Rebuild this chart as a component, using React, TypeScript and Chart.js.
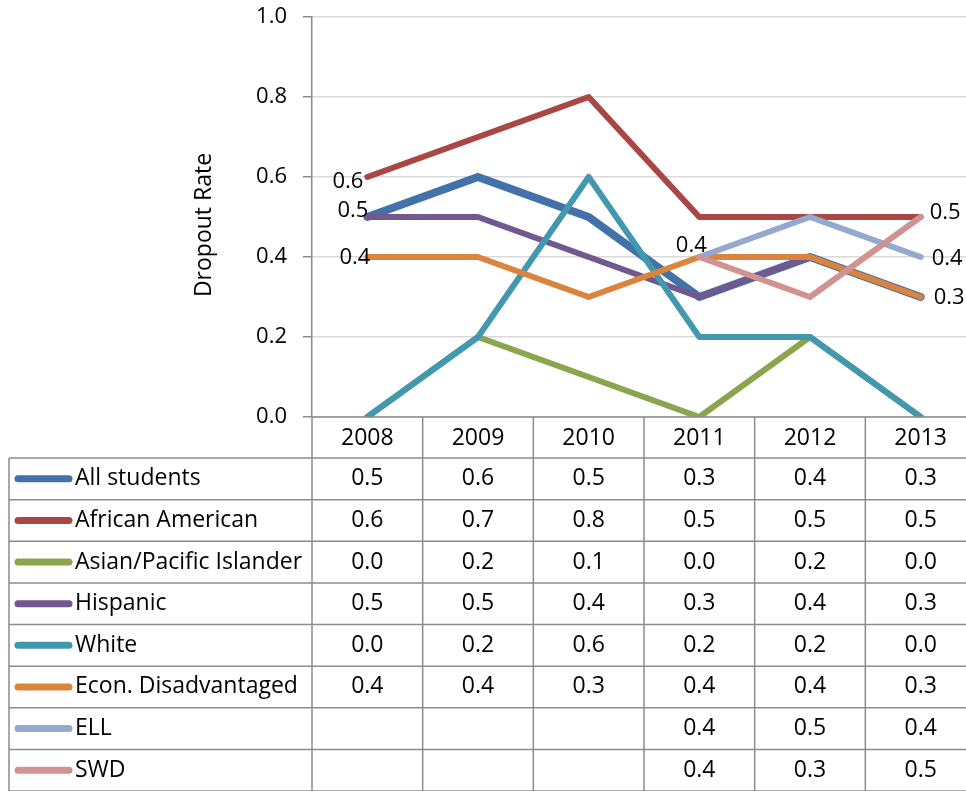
import React, { useEffect, useRef } from "react";
import { Chart, registerables } from "chart.js";

Chart.register(...registerables);

const years = ["2008", "2009", "2010", "2011", "2012", "2013"];
const seriesNames = [
  "All students",
  "African American",
  "Asian/Pacific Islander",
  "Hispanic",
  "White",
  "Econ. Disadvantaged",
  "ELL",
  "SWD",
];
const allStudents = [0.5, 0.6, 0.5, 0.3, 0.4, 0.3];
const africanAmerican = [0.6, 0.7, 0.8, 0.5, 0.5, 0.5];
const asianPacific = [0.0, 0.2, 0.1, 0.0, 0.2, 0.0];
const hispanic = [0.5, 0.5, 0.4, 0.3, 0.4, 0.3];
const white = [0.0, 0.2, 0.6, 0.2, 0.2, 0.0];
const econDisadvantaged = [0.4, 0.4, 0.3, 0.4, 0.4, 0.3];
const ell = [null, null, null, 0.4, 0.5, 0.4];
const swd = [null, null, null, 0.4, 0.3, 0.5];
const seriesValues = [allStudents, africanAmerican, asianPacific, hispanic, white, econDisadvantaged, ell, swd];
const colors = ["#4372AA", "#AA4643", "#89A54E", "#71588F", "#4198AF", "#DB843D", "#93A9CF", "#D19392"];
const lineWidths = [8, 6, 6, 6, 6, 6, 6, 6];

const yTicks = [0, 0.2, 0.4, 0.6, 0.8, 1.0];

// data labels: series index, point index, alignment and offset
const dataLabels = [
  { s: 1, i: 0, align: "right", dx: -4, dy: 5 },
  { s: 0, i: 0, align: "right", dx: 1, dy: -6 },
  { s: 5, i: 0, align: "right", dx: 3, dy: 1 },
  { s: 6, i: 3, align: "center", dx: -8, dy: -11 },
  { s: 7, i: 5, align: "left", dx: 9, dy: -4 },
  { s: 6, i: 5, align: "left", dx: 11, dy: 2 },
  { s: 5, i: 5, align: "left", dx: 13, dy: 1 },
];

const FONT = "'Open Sans', sans-serif";
const GRAY = "#8C8C8C";

const tablePlugin = {
  id: "tablePlugin",
  afterDraw(chart: any) {
    const ctx = chart.ctx;
    const x = chart.scales.x;
    const y = chart.scales.y;
    const area = chart.chartArea;
    const colW = (area.right - area.left) / years.length;
    const top = area.bottom;
    const headerBottom = 458;
    const bottom = 791;
    const rowH = (bottom - headerBottom) / seriesNames.length;
    const tableLeft = 9;
    const right = chart.width;

    ctx.save();
    // data labels
    ctx.fillStyle = "#000";
    ctx.font = `22px ${FONT}`;
    ctx.textBaseline = "middle";
    dataLabels.forEach((d) => {
      const v = seriesValues[d.s][d.i] as number;
      const px = x.getPixelForValue(d.i);
      const py = y.getPixelForValue(v);
      ctx.textAlign = d.align;
      ctx.fillText(v.toFixed(1), px + d.dx, py + d.dy);
    });

    // y title
    ctx.save();
    ctx.translate(204, 225);
    ctx.rotate(-Math.PI / 2);
    ctx.textAlign = "center";
    ctx.textBaseline = "middle";
    ctx.font = `23px ${FONT}`;
    ctx.fillText("Dropout Rate", 0, 0);
    ctx.restore();

    // table lines
    ctx.strokeStyle = GRAY;
    ctx.lineWidth = 1.5;
    ctx.beginPath();
    ctx.moveTo(area.left, top);
    ctx.lineTo(right, top);
    for (let r = 0; r <= seriesNames.length; r++) {
      const yy = headerBottom + r * rowH;
      ctx.moveTo(tableLeft, yy);
      ctx.lineTo(right, yy);
    }
    ctx.moveTo(tableLeft, headerBottom);
    ctx.lineTo(tableLeft, bottom);
    for (let c = 0; c <= years.length; c++) {
      const xx = area.left + c * colW;
      ctx.moveTo(xx, top);
      ctx.lineTo(xx, bottom);
    }
    ctx.stroke();

    // header
    ctx.fillStyle = "#000";
    ctx.font = `23px ${FONT}`;
    ctx.textAlign = "center";
    ctx.textBaseline = "middle";
    years.forEach((yr, i) => {
      ctx.fillText(yr, x.getPixelForValue(i), (top + headerBottom) / 2 + 1);
    });

    // rows
    seriesNames.forEach((name, r) => {
      const cy = headerBottom + r * rowH + rowH / 2;
      ctx.strokeStyle = colors[r];
      ctx.lineWidth = 7;
      ctx.lineCap = "round";
      ctx.beginPath();
      ctx.moveTo(18, cy);
      ctx.lineTo(69, cy);
      ctx.stroke();
      ctx.textAlign = "left";
      ctx.fillText(name, 75, cy);
      ctx.textAlign = "center";
      seriesValues[r].forEach((v, i) => {
        if (v === null || v === undefined) return;
        ctx.fillText((v as number).toFixed(1), x.getPixelForValue(i), cy);
      });
    });
    ctx.restore();
  },
};

export default function App() {
  const ref = useRef<HTMLCanvasElement>(null);
  useEffect(() => {
    const canvas = ref.current!;
    const n = seriesNames.length;
    const chart = new Chart(canvas, {
      type: "line",
      data: {
        labels: years,
        datasets: seriesNames.map((name, i) => ({
          label: name,
          data: seriesValues[i],
          borderColor: colors[i],
          backgroundColor: colors[i],
          borderWidth: lineWidths[i],
          pointRadius: 0,
          pointHoverRadius: 0,
          tension: 0,
          borderJoinStyle: "round" as const,
          borderCapStyle: "round" as const,
          spanGaps: false,
          order: n - i,
        })),
      },
      options: {
        responsive: false,
        animation: false,
        devicePixelRatio: 1,
        layout: { padding: { top: 17, bottom: 791 - 417, left: 0, right: 0 } },
        plugins: { legend: { display: false }, tooltip: { enabled: false } },
        scales: {
          x: {
            display: false,
            offset: true,
          },
          y: {
            min: 0,
            max: 1,
            afterFit: (s: any) => {
              s.width = 312;
              s.paddingTop = 0;
              s.paddingBottom = 0;
            },
            afterBuildTicks: (s: any) => {
              s.ticks = yTicks.map((v) => ({ value: v }));
            },
            ticks: {
              callback: (v: any) => Number(v).toFixed(1),
              color: "#000",
              font: { family: FONT, size: 22 },
              padding: 16,
            },
            grid: {
              color: "#D9D9D9",
              lineWidth: 1.5,
              tickColor: GRAY,
              tickLength: 9,
            },
            border: { display: true, color: GRAY, width: 1.5 },
          },
        },
      },
      plugins: [tablePlugin],
    });
    return () => chart.destroy();
  }, []);
  return (
    <div style={{ position: "fixed", left: 0, top: 0, width: 966, height: 791, overflow: "hidden", background: "#fff" }}>
      <canvas ref={ref} width={976} height={791} style={{ width: 976, height: 791 }} />
    </div>
  );
}
